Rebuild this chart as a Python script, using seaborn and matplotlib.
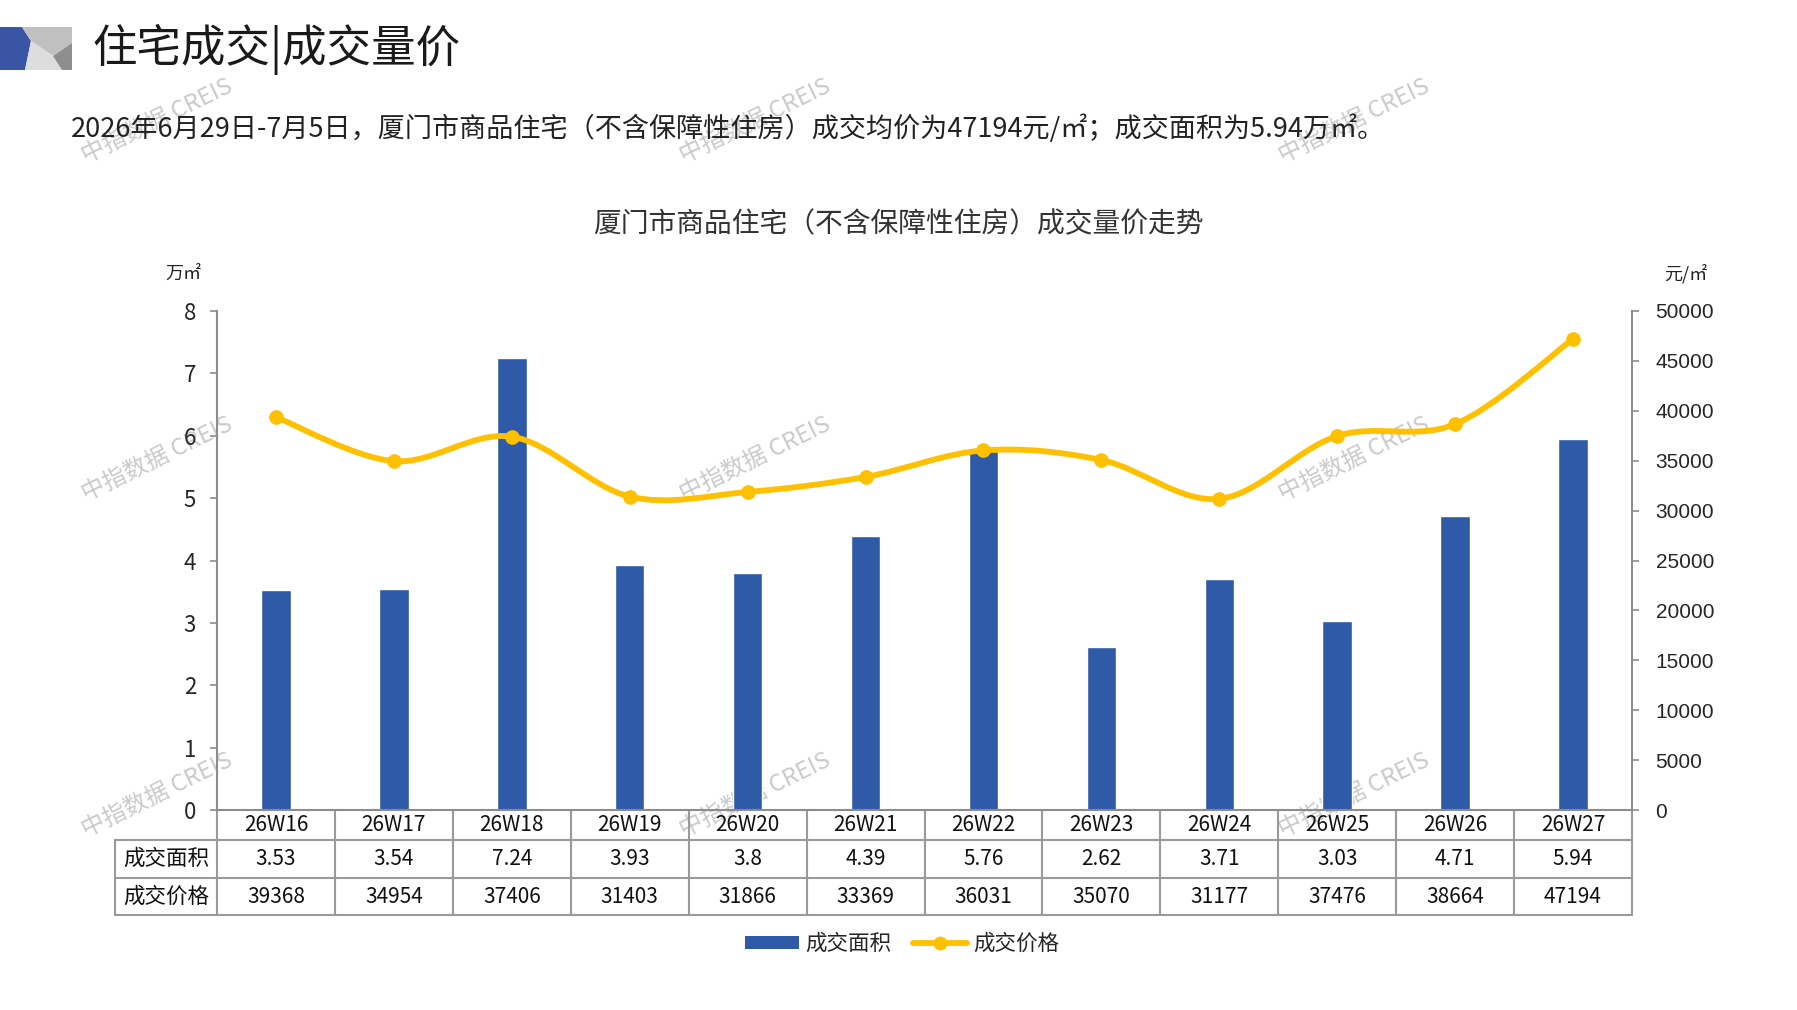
import numpy as np
import pandas as pd
import matplotlib
matplotlib.use("Agg")
import matplotlib.pyplot as plt
import seaborn as sns
from matplotlib.path import Path
from matplotlib.patches import PathPatch, Polygon, Rectangle
from matplotlib.lines import Line2D
from matplotlib.transforms import blended_transform_factory

# --- data ---
weeks = ["26W16", "26W17", "26W18", "26W19", "26W20", "26W21",
         "26W22", "26W23", "26W24", "26W25", "26W26", "26W27"]
area = [3.53, 3.54, 7.24, 3.93, 3.8, 4.39, 5.76, 2.62, 3.71, 3.03, 4.71, 5.94]
price = [39368, 34954, 37406, 31403, 31866, 33369, 36031, 35070, 31177, 37476, 38664, 47194]
row_labels = ["成交面积", "成交价格"]
area_ticks = list(range(0, 9))
price_ticks = list(range(0, 50001, 5000))

BLUE = "#2F5AA8"
GOLD = "#FFC000"
GRAY = "#8C8C8C"
CJK = ["Noto Sans CJK SC", "DejaVu Sans"]
NARROW = ["Liberation Sans Narrow", "Noto Sans CJK SC"]
SANS = ["Liberation Sans", "Noto Sans CJK SC"]

sns.set_style("white")
plt.rcParams["font.family"] = CJK
plt.rcParams["axes.unicode_minus"] = False

W, H = 1797, 1010
fig = plt.figure(figsize=(W / 100, H / 100), dpi=100)
fig.patch.set_facecolor("white")

def fx(x):
    return x / W

def fy(y):
    return 1 - y / H

# --- header decoration ---
shapes = [
    ([(0, 27), (22, 27), (31, 41), (25, 70), (0, 70)], "#3A55A4"),
    ([(22, 27), (72, 27), (72, 43), (53, 56), (31, 41)], "#C0C0C0"),
    ([(31, 41), (53, 56), (62, 70), (25, 70)], "#DDDDDD"),
    ([(53, 56), (72, 43), (72, 70), (62, 70)], "#8E8E8E"),
]
for pts, c in shapes:
    fig.patches.append(Polygon([(fx(x), fy(y)) for x, y in pts], closed=True,
                               transform=fig.transFigure, facecolor=c, edgecolor="none"))

fig.text(fx(92), fy(49), "住宅成交|成交量价", fontsize=32, ha="left", va="center", color="#1a1a1a")
fig.text(fx(71), fy(129),
         "2026年6月29日-7月5日，厦门市商品住宅（不含保障性住房）成交均价为47194元/㎡；成交面积为5.94万㎡。",
         fontsize=19.5, ha="left", va="center", color="#222222")
fig.text(fx(898), fy(224), "厦门市商品住宅（不含保障性住房）成交量价走势",
         fontsize=20, ha="center", va="center", color="#333333")
fig.text(fx(183), fy(274), "万㎡", fontsize=13, ha="center", va="center", color="#222222")
fig.text(fx(1686), fy(274), "元/㎡", fontsize=13, ha="center", va="center", color="#222222")

# --- watermarks ---
for wx in [157, 755, 1354]:
    for wy in [121, 459, 795]:
        fig.text(fx(wx), fy(wy), "中指数据 CREIS", fontsize=17, rotation=26,
                 ha="center", va="center", color="#CACACA", zorder=-1)

# --- axes ---
ax = fig.add_axes([fx(217), fy(810), fx(1632) - fx(217), fy(311) - fy(810)])
ax.patch.set_alpha(0)
df = pd.DataFrame({"week": weeks, "area": area, "price": price})
sns.barplot(data=df, x="week", y="area", color=BLUE, saturation=1, width=0.25, ax=ax)
ax.set_xlim(-0.5, len(weeks) - 0.5)
ax.set_ylim(0, 8)
ax.set_yticks(area_ticks)
ax.set_xlabel("")
ax.set_ylabel("")
ax.tick_params(axis="x", bottom=False, labelbottom=False)
ax.tick_params(axis="y", left=True, length=5, width=1.2, color=GRAY, pad=10, labelsize=16)
for lab in ax.get_yticklabels():
    lab.set_fontfamily(NARROW)
for s in ["top", "right"]:
    ax.spines[s].set_visible(False)
for s in ["left", "bottom"]:
    ax.spines[s].set_color(GRAY)
    ax.spines[s].set_linewidth(1.5)

ax2 = ax.twinx()
ax2.set_ylim(0, 50000)
ax2.set_yticks(price_ticks)
ax2.tick_params(axis="y", right=True, length=5, width=1.2, color=GRAY, pad=12, labelsize=15)
for lab in ax2.get_yticklabels():
    lab.set_fontfamily(SANS)
for s in ["top", "left", "bottom"]:
    ax2.spines[s].set_visible(False)
ax2.spines["right"].set_color(GRAY)
ax2.spines["right"].set_linewidth(1.5)

# smoothed price line (Catmull-Rom bezier through the points)
xs = np.arange(len(weeks), dtype=float)
pts = np.column_stack([xs, np.array(price, dtype=float)])
verts = [tuple(pts[0])]
codes = [Path.MOVETO]
n = len(pts)
for i in range(n - 1):
    p0 = pts[max(i - 1, 0)]
    p1 = pts[i]
    p2 = pts[i + 1]
    p3 = pts[min(i + 2, n - 1)]
    c1 = p1 + (p2 - p0) / 6
    c2 = p2 - (p3 - p1) / 6
    verts += [tuple(c1), tuple(c2), tuple(p2)]
    codes += [Path.CURVE4] * 3
ax2.add_patch(PathPatch(Path(verts, codes), facecolor="none", edgecolor=GOLD,
                        lw=4.2, capstyle="round", joinstyle="round", zorder=4))
sns.scatterplot(x=xs, y=price, ax=ax2, s=95, color=GOLD, edgecolor=GOLD, zorder=5, legend=False)
ax2.set_xlim(-0.5, len(weeks) - 0.5)

# --- data table ---
tr = blended_transform_factory(ax.transData, ax.transAxes)
rows = [0, -30 / 499, -68 / 499, -105 / 499]
x_lab = -0.5 - (217 - 114.5) / ((1632 - 217) / len(weeks))
x_end = len(weeks) - 0.5
lkw = dict(color="#9A9A9A", lw=1.5, transform=tr, clip_on=False)
for r in rows[1:]:
    ax.add_line(Line2D([x_lab, x_end], [r, r], **lkw))
for k in range(len(weeks) + 1):
    ax.add_line(Line2D([k - 0.5, k - 0.5], [rows[0], rows[3]], **lkw))
ax.add_line(Line2D([x_lab, x_lab], [rows[1], rows[3]], **lkw))

cells = [weeks, [f"{v:g}" for v in area], [str(v) for v in price]]
for ri, vals in enumerate(cells):
    yc = (rows[ri] + rows[ri + 1]) / 2
    for i, v in enumerate(vals):
        ax.text(i, yc, v, transform=tr, ha="center", va="center", fontsize=15,
                family=NARROW, color="#111111", clip_on=False)
    if ri > 0:
        ax.text((x_lab - 0.5) / 2, yc, row_labels[ri - 1], transform=tr, ha="center",
                va="center", fontsize=15.5, color="#111111", clip_on=False)

# --- legend ---
handles = [Rectangle((0, 0), 1, 1, facecolor=BLUE, edgecolor="none"),
           Line2D([], [], color=GOLD, lw=4.2, marker="o", markersize=9)]
fig.legend(handles, row_labels, loc="center", bbox_to_anchor=(fx(902), fy(944)), ncol=2,
           frameon=False, fontsize=15.5, handlelength=2.5, handleheight=0.55,
           handletextpad=0.3, columnspacing=1.0)

fig.savefig("out.png", dpi=100, facecolor="white")
